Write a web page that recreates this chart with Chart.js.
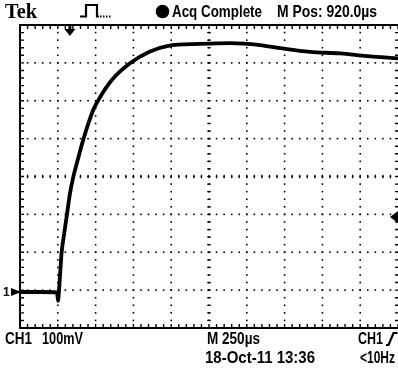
<!DOCTYPE html>
<html><head><meta charset="utf-8">
<script src="https://cdn.jsdelivr.net/npm/chart.js@4/dist/chart.umd.min.js"></script>
<style>
html,body{margin:0;padding:0;background:#fff;}
#wrap{position:relative;width:398px;height:371px;overflow:hidden;background:#fff;}
#c{position:absolute;left:0;top:0;}
.t{position:absolute;font:bold 17px 'Liberation Sans',Arial,sans-serif;line-height:17px;white-space:pre;color:#000;transform-origin:0 0;}
#tek{font:bold 22px 'Liberation Serif','Times New Roman',serif;line-height:22px;}
#gnd{font:bold 12px 'Liberation Sans',Arial,sans-serif;line-height:12px;}
svg{position:absolute;left:0;top:0;}
</style></head>
<body><div id="wrap">
<canvas id="c" width="398" height="371"></canvas>
<svg width="398" height="371" viewBox="0 0 398 371">
  <polyline points="80,16.5 86,16.5 86,5 97,5 97,16.5 99,16.5" fill="none" stroke="#000" stroke-width="2.2"/>
  <line x1="100" y1="16.5" x2="111" y2="16.5" stroke="#000" stroke-width="2" stroke-dasharray="1.5,1.5"/>
  <circle cx="162.5" cy="11.5" r="6.8" fill="#000"/>
  <polyline points="386,345 388.5,345 393.5,333 397.5,333" fill="none" stroke="#000" stroke-width="2.2"/>
</svg>
<div class="t" id="tek" data-w="32" style="left:5px;top:-0.5px">Tek</div>
<div class="t" data-w="90" style="left:172px;top:2.8px">Acq Complete</div>
<div class="t" data-w="100" style="left:277px;top:2.8px">M Pos: 920.0µs</div>
<div class="t" data-w="27" style="left:5px;top:329.8px">CH1</div>
<div class="t" data-w="41" style="left:42px;top:329.8px">100mV</div>
<div class="t" data-w="53" style="left:207px;top:329.8px">M 250µs</div>
<div class="t" data-w="25" style="left:358px;top:329.8px">CH1</div>
<div class="t" data-w="110" style="left:205px;top:348.8px">18-Oct-11 13:36</div>
<div class="t" data-w="35" style="left:360px;top:348.8px">&lt;10Hz</div>
<div class="t" id="gnd" style="left:3px;top:285.5px">1</div>
</div>
<script>
// ---- data (divisions: x 0..10 at 250 µs/div, y 0..8 at 100 mV/div) ----
const X_DIVS = 10;
const Y_DIVS = 8;
const SUBDIV = 5;
const timeDiv = [0, 0.53, 0.98, 1.005, 1.03, 1.10, 1.17, 1.24, 1.32, 1.41, 1.53, 1.67, 1.94, 2.12, 2.43, 2.91, 3.44, 3.92, 4.76, 5.56, 6.35, 6.88, 7.67, 8.47, 9.18, 10.0];
const voltDiv = [0.95, 0.95, 0.94, 0.72, 0.96, 1.98, 2.50, 2.98, 3.54, 3.99, 4.45, 4.96, 5.76, 6.10, 6.55, 6.99, 7.30, 7.45, 7.50, 7.52, 7.47, 7.39, 7.29, 7.25, 7.18, 7.12];
const GROUND_LEVEL = 0.95;
const TRIGGER_LEVEL = 2.93;
const TRIGGER_POS = 1.32;

// fit text widths
document.querySelectorAll('.t[data-w]').forEach(el=>{
  const w = el.getBoundingClientRect().width;
  const target = parseFloat(el.dataset.w);
  el.style.transform = 'scaleX(' + (target / w) + ')';
});

const graticule = {
  id: 'graticule',
  beforeDatasetsDraw(chart) {
    const {ctx, chartArea: a, scales: {x, y}} = chart;
    ctx.save();
    ctx.fillStyle = '#000';
    ctx.strokeStyle = '#000';
    const d = 1.6;
    // dotted grid lines
    for (let i = 1; i < X_DIVS; i++) {
      const px = x.getPixelForValue(i);
      for (let j = 1; j < Y_DIVS * SUBDIV; j++) {
        const py = y.getPixelForValue(j / SUBDIV);
        ctx.fillRect(px - d / 2, py - d / 2, d, d);
      }
    }
    for (let k = 1; k < Y_DIVS; k++) {
      const py = y.getPixelForValue(k);
      for (let j = 1; j < X_DIVS * SUBDIV; j++) {
        const px = x.getPixelForValue(j / SUBDIV);
        ctx.fillRect(px - d / 2, py - d / 2, d, d);
      }
    }
    // centre cross ticks
    ctx.lineWidth = 1.2;
    const cx = x.getPixelForValue(X_DIVS / 2), cy = y.getPixelForValue(Y_DIVS / 2);
    ctx.beginPath();
    for (let j = 1; j < Y_DIVS * SUBDIV; j++) {
      const py = y.getPixelForValue(j / SUBDIV);
      ctx.moveTo(cx - 1.8, py); ctx.lineTo(cx + 1.8, py);
    }
    for (let j = 1; j < X_DIVS * SUBDIV; j++) {
      const px = x.getPixelForValue(j / SUBDIV);
      ctx.moveTo(px, cy - 1.8); ctx.lineTo(px, cy + 1.8);
    }
    ctx.stroke();
    // frame
    ctx.lineWidth = 2;
    ctx.beginPath();
    ctx.moveTo(a.right + 2, a.top); ctx.lineTo(a.left, a.top); ctx.lineTo(a.left, a.bottom); ctx.lineTo(a.right + 2, a.bottom);
    ctx.stroke();
    ctx.lineWidth = 1.4;
    ctx.beginPath();
    for (let j = 1; j <= X_DIVS * SUBDIV; j++) {
      const px = x.getPixelForValue(j / SUBDIV);
      ctx.moveTo(px, a.top); ctx.lineTo(px, a.top + 4);
      ctx.moveTo(px, a.bottom); ctx.lineTo(px, a.bottom - 4);
    }
    for (let j = 1; j < Y_DIVS * SUBDIV; j++) {
      const py = y.getPixelForValue(j / SUBDIV);
      ctx.moveTo(a.left, py); ctx.lineTo(a.left + 4, py);
      ctx.moveTo(a.right, py); ctx.lineTo(a.right - 3, py);
    }
    ctx.stroke();
    ctx.restore();
  },
  afterDatasetsDraw(chart) {
    const {ctx, chartArea: a, scales: {x, y}} = chart;
    ctx.save();
    ctx.fillStyle = '#000';
    // trigger position arrow
    const tx = x.getPixelForValue(TRIGGER_POS);
    ctx.fillRect(tx - 1.5, a.top, 3, 5);
    ctx.beginPath();
    ctx.moveTo(tx - 5.5, a.top + 4); ctx.lineTo(tx + 5.5, a.top + 4); ctx.lineTo(tx, a.top + 11); ctx.closePath(); ctx.fill();
    // ground marker
    const gy = y.getPixelForValue(GROUND_LEVEL);
    ctx.beginPath();
    ctx.moveTo(a.left - 9, gy - 4); ctx.lineTo(a.left + 1, gy); ctx.lineTo(a.left - 9, gy + 4); ctx.closePath(); ctx.fill();
    // trigger level marker
    const ty = y.getPixelForValue(TRIGGER_LEVEL);
    ctx.beginPath();
    ctx.moveTo(a.right - 8, ty); ctx.lineTo(a.right, ty - 6); ctx.lineTo(a.right, ty + 6); ctx.closePath(); ctx.fill();
    ctx.restore();
  }
};

new Chart(document.getElementById('c'), {
  type: 'line',
  data: {
    datasets: [{
      data: timeDiv.map((t, i) => ({x: t, y: voltDiv[i]})),
      borderColor: '#000',
      borderWidth: 3.8,
      pointRadius: 0,
      cubicInterpolationMode: 'monotone',
      borderJoinStyle: 'round',
      borderCapStyle: 'round',
      clip: 3
    }]
  },
  options: {
    responsive: false,
    animation: false,
    events: [],
    layout: {padding: {left: 20, top: 25, right: 0, bottom: 43}},
    scales: {
      x: {type: 'linear', min: 0, max: X_DIVS, display: false},
      y: {type: 'linear', min: 0, max: Y_DIVS, display: false}
    },
    plugins: {legend: {display: false}, tooltip: {enabled: false}, title: {display: false}}
  },
  plugins: [graticule]
});
</script>
</body></html>
